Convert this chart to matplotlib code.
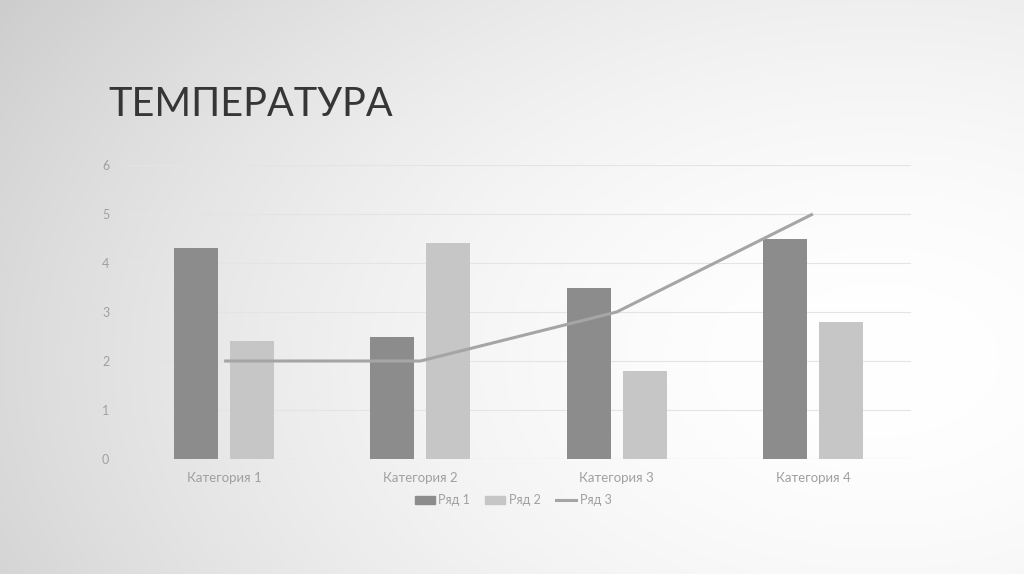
import numpy as np
import matplotlib
matplotlib.use("Agg")
import matplotlib.pyplot as plt
from matplotlib.patches import Patch
from matplotlib.lines import Line2D

categories = ["Категория 1", "Категория 2", "Категория 3", "Категория 4"]
series1 = [4.3, 2.5, 3.5, 4.5]
series2 = [2.4, 4.4, 1.8, 2.8]
series3 = [2, 2, 3, 5]
series_names = ["Ряд 1", "Ряд 2", "Ряд 3"]
yticks = [0, 1, 2, 3, 4, 5, 6]
title = "ТЕМПЕРАТУРА"

plt.rcParams['font.family'] = ['Lato', 'DejaVu Sans']

W, H = 1024, 574
fig = plt.figure(figsize=(W / 100, H / 100), dpi=100)

# background gradient
bg = fig.add_axes([0, 0, 1, 1])
yy, xx = np.mgrid[0:H, 0:W]
d = np.sqrt(((xx - 880) / 860.0) ** 2 + ((yy - 360) / 560.0) ** 2)
val = 1.0 - 0.14 * np.clip(d, 0, 1.2) ** 1.8
bg.imshow(np.dstack([val, val, val]), extent=[0, W, H, 0], aspect='auto', interpolation='bilinear')
bg.set_xlim(0, W)
bg.set_ylim(H, 0)
bg.axis('off')

fig.text(108 / W, 1 - 104 / H, title, fontsize=28.5, color='#363636', va='center', ha='left',
         fontweight='normal')

ax = fig.add_axes([126 / W, (H - 459) / H, (911 - 126) / W, (459 - 165) / H])
ax.set_facecolor('none')
x = np.arange(len(categories))
bw = 0.224
off = 0.143
ax.bar(x - off, series1, width=bw, color='#8c8c8c', zorder=3)
ax.bar(x + off, series2, width=bw, color='#c6c6c6', zorder=3)
ax.plot(x, series3, color='#a5a5a5', lw=2.2, zorder=4, solid_capstyle='butt')
ax.set_xlim(-0.5, len(categories) - 0.5)
ax.set_ylim(0, 6)
ax.set_yticks(yticks)
ax.set_yticklabels([str(t) for t in yticks])
ax.set_xticks(x)
ax.set_xticklabels(categories)
ax.grid(axis='y', color='#e4e4e4', lw=0.8, zorder=0)
for s in ax.spines.values():
    s.set_visible(False)
ax.tick_params(axis='both', length=0, colors='#a0a0a0', labelsize=9)
ax.tick_params(axis='x', pad=9, labelsize=9.5)
ax.tick_params(axis='y', pad=12)
ax.axhline(0, color='#dcdcdc', lw=0.8, zorder=2)

handles = [Patch(color='#8c8c8c'), Patch(color='#c6c6c6'), Line2D([], [], color='#a5a5a5', lw=2.2)]
leg = fig.legend(handles, series_names, loc='center', bbox_to_anchor=(513 / W, 1 - 500 / H), ncol=3,
                 frameon=False, fontsize=9, labelcolor='#a0a0a0', handlelength=1.6, handleheight=0.6,
                 handletextpad=0.3, columnspacing=1.2)

fig.savefig('out.png', dpi=100)
